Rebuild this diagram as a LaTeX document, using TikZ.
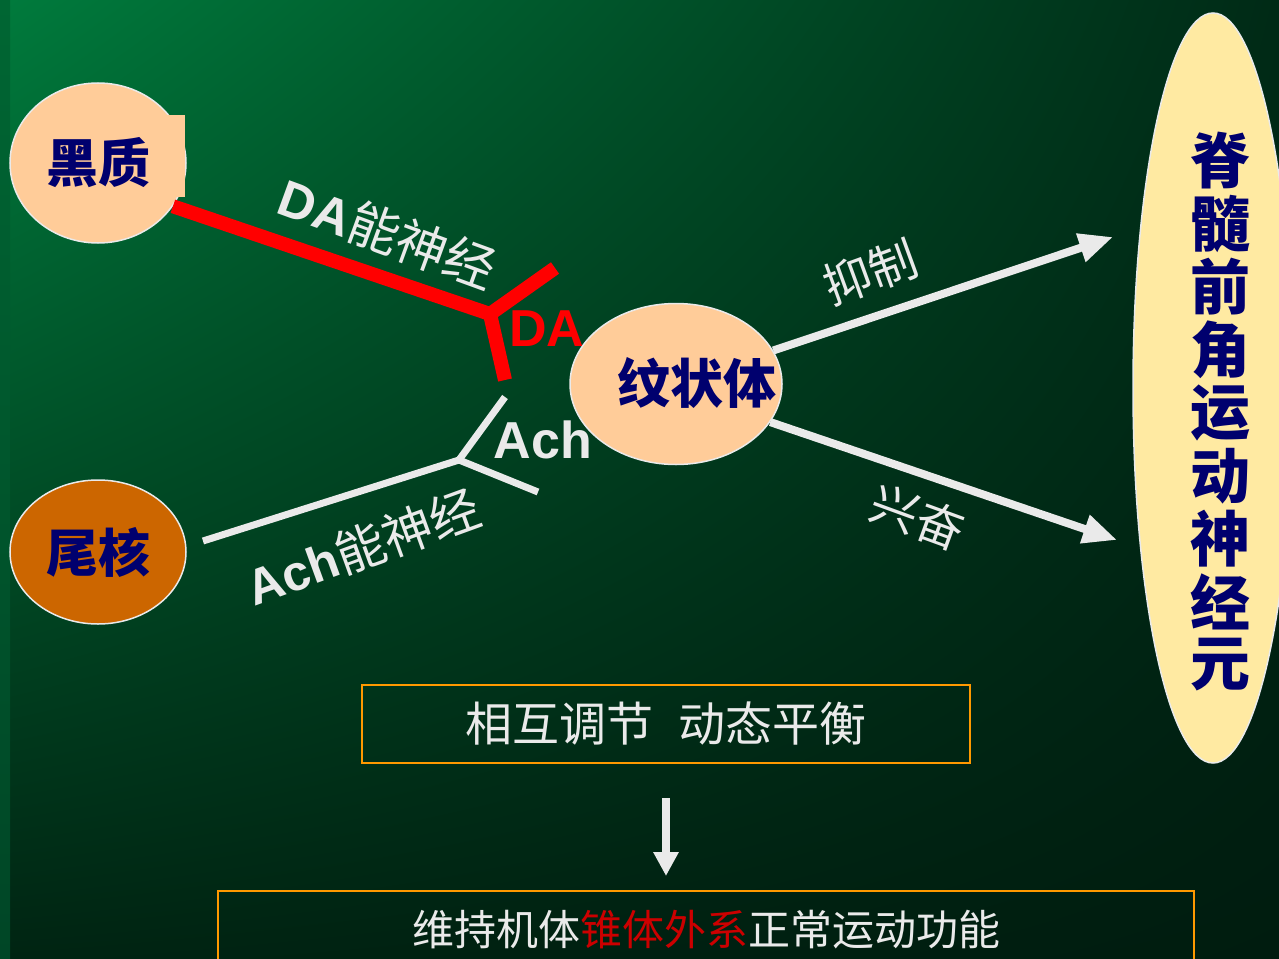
\documentclass[tikz,border=0pt]{standalone}
\usepackage{fontspec}
\setmainfont{Liberation Sans}
\newfontfamily\cjk{Noto Sans CJK SC}
\usetikzlibrary{shapes.geometric,arrows.meta,shadings}

\definecolor{bgtl}{RGB}{0,122,60}
\definecolor{bgtr}{RGB}{0,42,22}
\definecolor{bgbl}{RGB}{0,36,18}
\definecolor{bgbr}{RGB}{0,28,15}
\definecolor{peach}{RGB}{255,204,153}
\definecolor{rust}{RGB}{204,102,0}
\definecolor{cream}{RGB}{255,234,162}
\definecolor{navy}{RGB}{0,0,110}
\definecolor{chalk}{RGB}{234,234,234}
\definecolor{boxline}{RGB}{255,153,0}
\definecolor{darkred}{RGB}{204,0,0}

\tikzset{
  nucleus/.style={ellipse, draw=chalk, line width=1.5pt, inner sep=0pt},
  navytext/.style={text=navy, font=\cjk\bfseries\fontsize{52}{52}\selectfont},
  chalktext/.style={text=chalk, font=\cjk\fontsize{48}{48}\selectfont},
  fiber/.style={chalk, line width=7pt},
  dafiber/.style={red, line width=14pt},
  pathway/.style={chalk, line width=8pt, -{Triangle[length=34pt,width=28pt]}},
  framebox/.style={draw=boxline, line width=2pt, inner sep=0pt},
}

\begin{document}
\begin{tikzpicture}[x=1pt, y=-1pt]
    \useasboundingbox (0,0) rectangle (1279,958);
    \clip (0,0) rectangle (1279,958);

    % background
    \shade[upper left=bgtl, upper right=bgtr, lower left=bgbl, lower right=bgbr]
        (10,0) rectangle (1279,958);
    \shade[top color={rgb,255:red,0;green,102;blue,51}, bottom color={rgb,255:red,0;green,70;blue,38}]
        (0,0) rectangle (10,958);

    % nuclei
    \node[nucleus, navytext, fill=peach, minimum width=176pt, minimum height=160pt] (hz) at (98,163) {黑质};
    \fill[peach] (160,115) rectangle (185,197);
    \node[nucleus, navytext, fill=rust, minimum width=176pt, minimum height=144pt] (wh) at (98,552) {尾核};
    \node[nucleus, fill=peach, minimum width=212pt, minimum height=161pt] (wzt) at (676,384) {};
    \node[navytext, font=\cjk\bfseries\fontsize{53}{53}\selectfont] (wztl) at (697,383) {纹状体};
    \node[nucleus, fill=cream, minimum width=160pt, minimum height=750pt] (jsy) at (1213,388) {};

    \foreach \c [count=\i] in {脊,髓,前,角,运,动,神,经,元}{
        \node[navytext, font=\cjk\bfseries\fontsize{60}{60}\selectfont] (ch\i) at (1220,{98+63*\i}) {\c};
    }

    % DA fibre
    \coordinate (daY) at (490,314);
    \coordinate (daU) at (555,268);
    \coordinate (daD) at (505,380);
    \draw[dafiber] (hz.-30) -- (daY);
    \draw[dafiber] (daY) -- (daU);
    \draw[dafiber] (daY) -- (daD);
    \fill[red] (daY) circle (7pt);
    \node[text=red, font=\bfseries\fontsize{52}{52}\selectfont] (dat) at (547,329) {DA};
    \node[chalktext, font=\cjk\fontsize{51}{51}\selectfont, rotate=-20] (dalab) at (388,233) {{\rmfamily\bfseries DA}能神经};

    % Ach fibre
    \coordinate (achS) at (203,541);
    \coordinate (achY) at (459,460);
    \coordinate (achU) at (505,397);
    \coordinate (achD) at (538,492);
    \draw[fiber] (achS) -- (achY);
    \draw[fiber] (achY) -- (achU);
    \draw[fiber] (achY) -- (achD);
    \fill[chalk] (achY) circle (3.5pt);
    \node[text=chalk, font=\bfseries\fontsize{52}{52}\selectfont] (acht) at (543,440) {Ach};
    \node[chalktext, font=\cjk\fontsize{50}{50}\selectfont, rotate=20] (achlab) at (363,547) {{\rmfamily\bfseries Ach}能神经};

    % output pathways
    \coordinate (inhEnd) at (1113,237);
    \coordinate (excEnd) at (1117,540);
    \draw[pathway] (wzt.19) -- (inhEnd);
    \draw[pathway] (wzt.-22) -- (excEnd);
    \node[chalktext, rotate=20] (inh) at (870,272) {抑制};
    \node[chalktext, rotate=-20] (exc) at (918,517) {兴奋};

    % summary boxes
    \node[framebox, chalktext, font=\cjk\fontsize{47}{47}\selectfont,
          minimum width=608pt, minimum height=78pt] (b1) at (666,724) {相互调节\hspace{25pt}动态平衡};
    \node[framebox, minimum width=976pt, minimum height=140pt] (b2) at (706,961) {};
    \node[chalktext, font=\cjk\fontsize{42}{42}\selectfont] (b2t) at (706,930)
        {维持机体\textcolor{darkred}{锥体外系}正常运动功能};
    \draw[chalk, line width=8pt, -{Triangle[length=24pt,width=24pt]},
          shorten <=34pt, shorten >=14pt] (b1.south) -- (b1.south |- b2.north);
\end{tikzpicture}
\end{document}
